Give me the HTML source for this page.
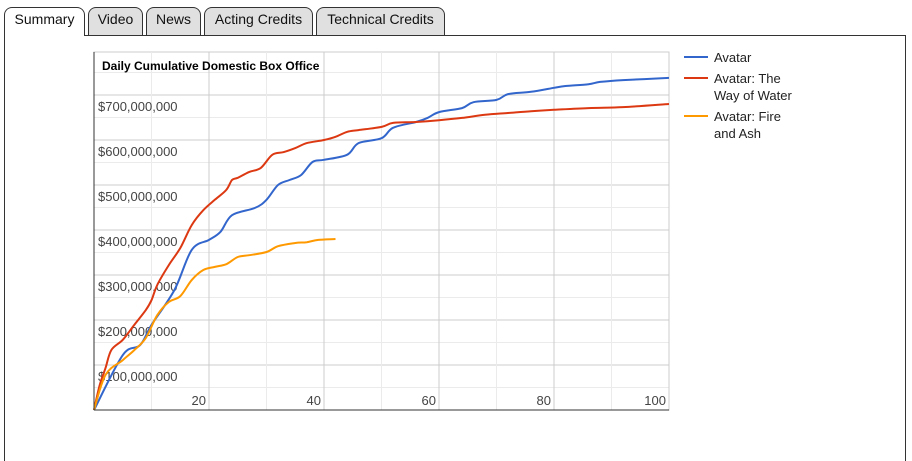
<!DOCTYPE html>
<html style="overflow:hidden;width:912px;height:461px;"><head><meta charset="utf-8"><style>
body{margin:0;width:912px;height:461px;overflow:hidden;background:#fff;font-family:"Liberation Sans",Arial,sans-serif;position:relative;}
.tab{position:absolute;top:7px;height:28px;border:1px solid #333;border-bottom:none;border-radius:8px 8px 0 0;background:#e0e0e0;font-size:14px;line-height:22px;text-align:center;color:#111;box-sizing:border-box;}
.tab.active{background:#fff;height:29px;z-index:2;}
#panel{position:absolute;left:4px;top:35px;width:902px;height:430px;border:1px solid #333;box-sizing:border-box;}
</style></head><body>
<div class="tab active" style="left:4px;width:81px;">Summary</div>
<div class="tab" style="left:88px;width:55px;">Video</div>
<div class="tab" style="left:146px;width:55px;">News</div>
<div class="tab" style="left:204px;width:109px;">Acting Credits</div>
<div class="tab" style="left:316px;width:129px;">Technical Credits</div>
<div id="panel"></div>
<svg id="chart" width="912" height="461" style="position:absolute;left:0;top:0;z-index:3" font-family="Liberation Sans, Arial, sans-serif"></svg>
<script>
const days1=[0,5,8,10,14,17,20,22,24,28,30,32,34,36,38,40,44,46,50,52,56,58,60,64,66,70,72,76,80,82,86,88,92,100];
const avatar=[0,122,144,189,267,356,378,396,433,449,467,500,511,522,551,556,567,593,604,627,640,649,662,671,684,689,702,707,716,720,724,729,733,738];
const days2=[0,1,2,3,5,7,9,10,11,13,15,17,19,21,23,24,25,27,29,31,33,35,37,40,42,44,46,50,52,56,60,64,68,72,76,80,86,92,100];
const wayOfWater=[0,56,93,133,156,189,222,244,278,322,360,411,444,467,489,511,516,529,538,567,573,582,593,600,607,618,622,629,638,640,644,649,656,660,664,667,671,673,680];
const days3=[0,2,5,7,9,11,13,15,17,19,21,23,25,27,30,32,35,37,39,42];
const fireAndAsh=[0,78,111,133,160,211,240,253,289,311,318,324,340,344,351,364,371,373,378,380];
const yTicks=[100,200,300,400,500,600,700];
const yTickLabels=["$100,000,000","$200,000,000","$300,000,000","$400,000,000","$500,000,000","$600,000,000","$700,000,000"];
const xTicks=[20,40,60,80,100];
const seriesNames=[["Avatar"],["Avatar: The","Way of Water"],["Avatar: Fire","and Ash"]];
const colors=["#3366cc","#dc3912","#ff9900"];
const L=94,R=669,T=52,B=410;
const x=d=>L+d*(R-L)/100;
const y=v=>B-v*0.45;
const svg=document.getElementById('chart');
const NS='http://www.w3.org/2000/svg';
function mk(t,a){const e=document.createElementNS(NS,t);for(const k in a)e.setAttribute(k,a[k]);svg.appendChild(e);return e;}
const bg=mk('rect',{x:L,y:T,width:R-L,height:B-T,fill:'#fff',stroke:'#ccc'});


for(let v=50;v<=750;v+=50){if(y(v)<T)break;const g=mk('line',{x1:L,x2:R,y1:y(v),y2:y(v),stroke:v%100?'#ebebeb':'#ccc'});

}
for(let d=10;d<=100;d+=10){const g=mk('line',{x1:x(d),x2:x(d),y1:T,y2:B,stroke:d%20?'#ebebeb':'#ccc'});

}
const ttl=mk('text',{x:102,y:70,'font-size':12,'font-weight':'bold',fill:'#000'});ttl.textContent='Daily Cumulative Domestic Box Office';


yTicks.forEach((v,i)=>{const t=mk('text',{x:98,y:y(v)+16,'font-size':13,fill:'#444'});t.textContent=yTickLabels[i];

});
xTicks.forEach(d=>{const t=mk('text',{x:x(d)-3,y:405,'font-size':13,fill:'#444','text-anchor':'end'});t.textContent=d;

});
function path(ds,vs){const P=ds.map((d,i)=>[x(d),y(vs[i])]);let p='M'+P[0][0].toFixed(1)+','+P[0][1].toFixed(1);
for(let i=0;i<P.length-1;i++){const p0=P[Math.max(0,i-1)],p1=P[i],p2=P[i+1],p3=P[Math.min(P.length-1,i+2)];
const c1=[p1[0]+(p2[0]-p0[0])/6,p1[1]+(p2[1]-p0[1])/6],c2=[p2[0]-(p3[0]-p1[0])/6,p2[1]-(p3[1]-p1[1])/6];
p+='C'+c1.map(n=>n.toFixed(1))+' '+c2.map(n=>n.toFixed(1))+' '+p2.map(n=>n.toFixed(1));}
return p;}
[[days1,avatar],[days2,wayOfWater],[days3,fireAndAsh]].forEach((s,i)=>{const p=mk('path',{d:path(s[0],s[1]),fill:'none',stroke:colors[i],'stroke-width':2,'stroke-linejoin':'round'});

});
mk('line',{x1:L,x2:R,y1:B,y2:B,stroke:'#333'});
mk('line',{x1:L,x2:L,y1:T,y2:B,stroke:'#333'});
const ly=[57,78,116];
seriesNames.forEach((n,i)=>{const l=mk('line',{x1:684,x2:708,y1:ly[i],y2:ly[i],stroke:colors[i],'stroke-width':2});


n.forEach((s,j)=>{const t=mk('text',{x:714,y:ly[i]+5+j*17,'font-size':13,fill:'#222'});t.textContent=s;

});});
</script>
</body></html>
